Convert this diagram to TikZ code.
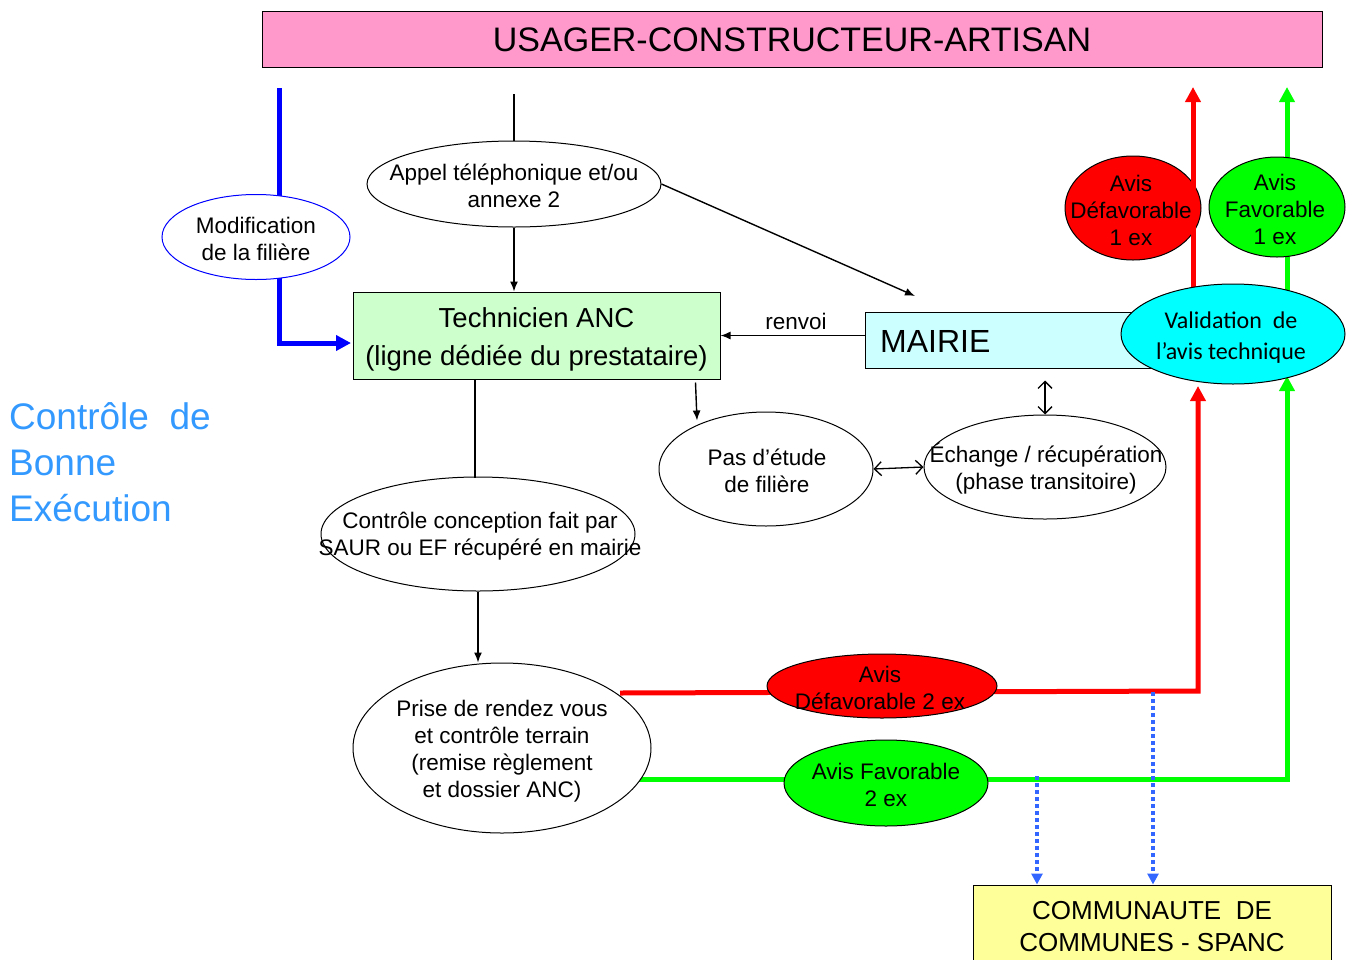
\documentclass[tikz,border=0pt]{standalone}
\usepackage{fontspec}
\setmainfont{Liberation Sans}
\newfontfamily\calib{Carlito}
\usetikzlibrary{arrows.meta,shapes.geometric,calc}
\definecolor{pinkbox}{HTML}{FF99CC}
\definecolor{greenbox}{HTML}{CCFFCC}
\definecolor{cyanbox}{HTML}{CCFFFF}
\definecolor{cyanell}{HTML}{00FFFF}
\definecolor{rd}{HTML}{FF0000}
\definecolor{gr}{HTML}{00FF00}
\definecolor{yel}{HTML}{FFFF99}
\definecolor{bluetxt}{HTML}{3399FF}
\definecolor{bl}{HTML}{0000FF}
\definecolor{dotbl}{HTML}{3366FF}
\tikzset{
  boxs/.style={draw=black, line width=1pt, inner sep=0pt},
  ell/.style={ellipse, draw=black, line width=1pt, fill=white, inner sep=0pt},
  txt/.style={align=center, inner sep=0pt, font={\fontsize{22.5}{27}\selectfont}},
  arr/.style={line width=1.4pt, -{Latex[length=10pt,width=8pt]}},
  dbl/.style={line width=1.3pt, {Straight Barb[length=7pt,width=14pt]}-{Straight Barb[length=7pt,width=14pt]}},
  thick4/.style={line width=5pt},
  bigtip/.style={-{Triangle[length=15pt,width=15pt]}},
  dotarr/.style={line width=3.5pt, dotbl, dash pattern=on 4pt off 3pt, -{Triangle[length=11pt,width=11pt]}}
}
\begin{document}
\begin{tikzpicture}[x=1pt,y=-1pt]
\useasboundingbox (0,0) rectangle (1355,959);

% top box
\node[boxs, fill=pinkbox, minimum width=1060pt, minimum height=56pt] (usager) at (792,39) {};
\node[inner sep=0pt, font={\fontsize{34}{40}\selectfont}] (usagert) at (792,40) {USAGER-CONSTRUCTEUR-ARTISAN};

% left title
\node[anchor=west, align=left, inner sep=0pt, text=bluetxt, font={\fontsize{37}{46}\selectfont}] (titre) at (9,462) {Contrôle\ \ de\\Bonne\\Exécution};

% coordinates
\coordinate (bltop) at (279,88);
\coordinate (bltarget) at (351,343);
\coordinate (appeltop) at (514,94);
\coordinate (rstart) at (620,693);
\coordinate (rcorner) at (1198,691);
\coordinate (gstart) at (638,779);
\coordinate (gcorner) at (1287,779);
\coordinate (rtop) at (1193,87);
\coordinate (gtop) at (1287,87);
\coordinate (rbot) at (1193,292);
\coordinate (gbot) at (1287,292);
\coordinate (d1) at (1037,776);
\coordinate (d2) at (1153,692);
\coordinate (mairiearr) at (915,296);

% boxes
\node[boxs, fill=greenbox, minimum width=367pt, minimum height=87pt] (tech) at (536.5,335.5) {};
\node[txt, font={\fontsize{27.5}{38}\selectfont}] (techt) at (536.5,339) {Technicien ANC\\(ligne dédiée du prestataire)};
\node[boxs, fill=cyanbox, minimum width=295pt, minimum height=56pt] (mairie) at (1012.5,340) {};
\node[anchor=west, inner sep=0pt, font={\fontsize{32}{38}\selectfont}] (mairiet) at (880,341) {MAIRIE};
\node[boxs, fill=yel, minimum width=358pt, minimum height=100pt] (cc) at (1152,935) {};
\node[txt, font={\fontsize{26}{32}\selectfont}] (cct) at (1152,927) {COMMUNAUTE\ \ DE\\COMMUNES - SPANC};

% long coloured lines (behind)
\draw[thick4, bl, bigtip] (bltop) |- (bltarget);
\draw[thick4, rd, bigtip] (rstart) -- (rcorner) -- (1198,386);
\draw[thick4, gr, bigtip] (gstart) -- (gcorner) -- (1287,376);
\draw[thick4, gr, bigtip] (gbot) -- (gtop);

% ellipses
\node[ell, draw=bl, minimum width=188pt, minimum height=85pt] (modif) at (256,237) {};
\node[txt] (modift) at (256,239) {Modification\\de la filière};

\node[ell, minimum width=294pt, minimum height=86pt] (appel) at (514,184) {};
\node[txt] (appelt) at (514,186) {Appel téléphonique et/ou\\annexe 2};

\node[ell, minimum width=314pt, minimum height=114pt] (controle) at (478,534) {};
\node[txt] (controlet) at (480,536) {Contrôle conception fait par\\SAUR ou EF récupéré en mairie};

\node[ell, minimum width=298pt, minimum height=170pt] (prise) at (502,748) {};
\node[txt] (priset) at (502,751) {Prise de rendez vous\\et contrôle terrain\\(remise règlement\\et dossier ANC)};

\node[ell, minimum width=214pt, minimum height=114pt] (pas) at (766,469) {};
\node[txt] (past) at (767,471) {Pas d’étude\\de filière};

\node[ell, minimum width=242pt, minimum height=104pt] (echange) at (1045,467) {};
\node[txt] (echanget) at (1046,469) {Échange / récupération\\(phase transitoire)};

\node[ell, fill=rd, minimum width=136pt, minimum height=104pt] (adef1) at (1133,208) {};
\node[txt] (adef1t) at (1131,210) {Avis\\Défavorable\\1 ex};
\draw[thick4, rd, bigtip] (rbot) -- (rtop);

\node[ell, fill=gr, minimum width=136pt, minimum height=100pt] (afav1) at (1277,207) {};
\node[txt] (afav1t) at (1275,209) {Avis\\Favorable\\1 ex};

\node[ell, fill=rd, minimum width=230pt, minimum height=64pt] (adef2) at (882,686) {};
\node[txt] (adef2t) at (880,688) {Avis\\Défavorable 2 ex};

\node[ell, fill=gr, minimum width=204pt, minimum height=86pt] (afav2) at (886,783) {};
\node[txt] (afav2t) at (886,785) {Avis Favorable\\2 ex};

\node[ell, fill=cyanell, minimum width=224pt, minimum height=100pt] (valid) at (1233,334) {};
\node[txt, font={\calib\fontsize{24}{31}\selectfont}] (validt) at (1231,338) {Validation\ \ de\\l’avis technique};

% black connectors
\draw[line width=1.4pt] (appeltop) -- (appel.north);
\draw[arr] (appel.south) -- (tech.north -| appel.south);
\draw[arr] (appel.east) -- (mairiearr);
\draw[arr] (tech.east -| mairie.west) -- (tech.east);
\node[txt] (renvoi) at (796,321) {renvoi};
\draw[arr] ($(tech.south east)+(-25,3)$) -- ($(pas.north)+(-69,9)$);
\draw[line width=1.4pt] (tech.south -| controle.north) ++(-3,0) -- ++(0,98);
\draw[arr] (controle.south) -- (prise.north -| controle.south);
\draw[dbl] (pas.east) -- (echange.west);
\draw[dbl] (echange.north) -- ++(0,-34);

% dotted blue
\draw[dotarr] (d1) -- (d1 |- cc.north);
\draw[dotarr] (d2) -- (d2 |- cc.north);
\end{tikzpicture}
\end{document}
